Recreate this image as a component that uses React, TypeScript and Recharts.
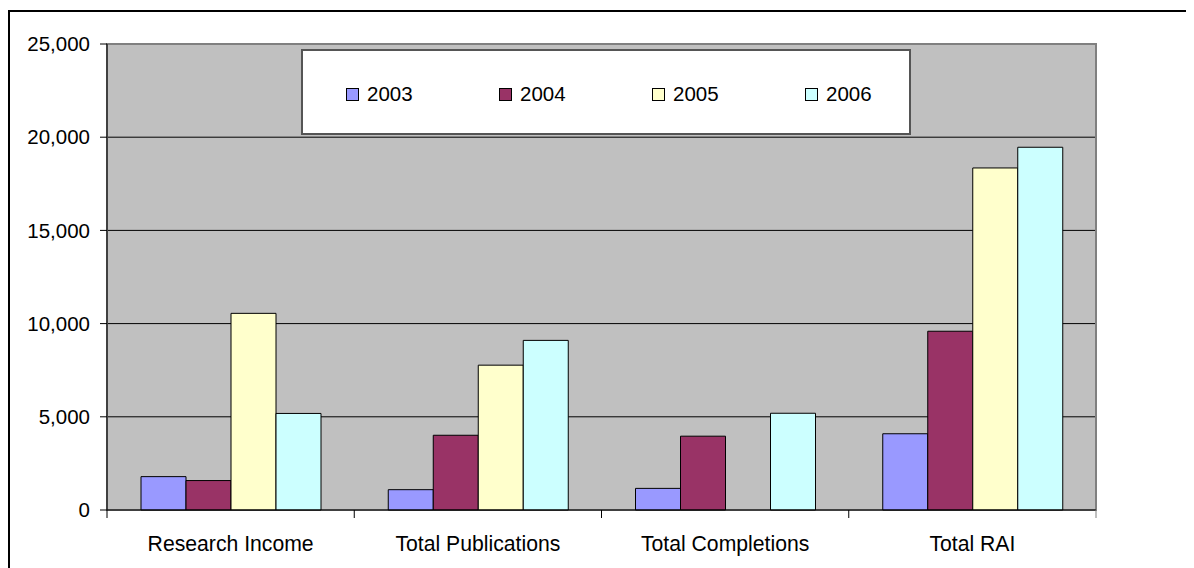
import React from 'react';
import { BarChart, Bar, XAxis, YAxis, CartesianGrid, Legend, ReferenceArea } from 'recharts';

const categories = ['Research Income', 'Total Publications', 'Total Completions', 'Total RAI'];
const years = ['2003', '2004', '2005', '2006'];
const values2003 = [1790, 1090, 1160, 4090];
const values2004 = [1580, 4010, 3960, 9590];
const values2005 = [10550, 7770, 0, 18350];
const values2006 = [5180, 9100, 5190, 19460];
const yTicks = [0, 5000, 10000, 15000, 20000, 25000];

const colors = ['#9999FF', '#993366', '#FFFFCC', '#CCFFFF'];
const seriesValues = [values2003, values2004, values2005, values2006];

const data = categories.map((name, i) => {
  const row: Record<string, string | number> = { name };
  years.forEach((y, s) => {
    row[y] = seriesValues[s][i];
  });
  return row;
});

const FONT = '"Liberation Sans", Arial, sans-serif';

// chart geometry
const CHART_W = 1180;
const CHART_H = 556;
const MARGIN = { top: 32, right: 94, bottom: 18, left: 0 };
const Y_W = 97;
const PLOT_W = CHART_W - MARGIN.left - MARGIN.right - Y_W;
const HALF_BAND = PLOT_W / categories.length / 2;

const CategoryTick = (props: any) => {
  const { x, y, payload, index } = props;
  const last = index === categories.length - 1;
  return (
    <g>
      <line x1={x - HALF_BAND} y1={y - 8} x2={x - HALF_BAND} y2={y} stroke="#000" />
      {last && <line x1={x + HALF_BAND} y1={y - 8} x2={x + HALF_BAND} y2={y} stroke="#808080" />}
      <text x={x} y={y + 33} textAnchor="middle" fontFamily={FONT} fontSize={21.2} fill="#000">
        {payload.value}
      </text>
    </g>
  );
};

const LegendBox = () => (
  <div
    style={{
      width: 606,
      height: 82,
      background: '#fff',
      border: '2px solid #555',
      position: 'relative',
      fontFamily: FONT,
      fontSize: 20.5,
    }}
  >
    {years.map((y, i) => (
      <div
        key={y}
        style={{
          position: 'absolute',
          left: 43 + i * 153,
          top: 31,
          display: 'flex',
          alignItems: 'center',
        }}
      >
        <div style={{ width: 11, height: 11, background: colors[i], border: '1px solid #000', marginRight: 8 }} />
        <span>{y}</span>
      </div>
    ))}
  </div>
);

export default function App() {
  return (
    <div
      style={{
        marginTop: 2,
        width: 1200,
        height: 570,
        borderTop: '2px solid #000',
        borderLeft: '2px solid #000',
        background: '#fff',
      }}
    >
      <BarChart
        width={CHART_W}
        height={CHART_H}
        data={data}
        margin={MARGIN}
        barCategoryGap={34}
        barGap={0}
      >
        <CartesianGrid vertical={false} stroke="#000" fill="#C0C0C0" fillOpacity={1} />
        <ReferenceArea y1={0} y2={25000} fill="none" stroke="#808080" strokeWidth={2} ifOverflow="visible" />
        <YAxis
          width={Y_W}
          domain={[0, 25000]}
          ticks={yTicks}
          interval={0}
          tickFormatter={(v: number) => v.toLocaleString('en-US')}
          tick={{ fill: '#000', fontSize: 20.5, fontFamily: FONT }}
          tickSize={7}
          tickMargin={10}
          stroke="#000"
          axisLine={{ stroke: '#000' }}
          tickLine={{ stroke: '#000' }}
        />
        <XAxis
          dataKey="name"
          height={40}
          interval={0}
          tick={<CategoryTick />}
          tickLine={false}
          axisLine={{ stroke: '#000' }}
        />
        <Legend
          layout="horizontal"
          verticalAlign="middle"
          align="center"
          content={<LegendBox />}
          wrapperStyle={{ left: 291, top: 37, width: 610, height: 86 }}
        />
        {years.map((y, i) => (
          <Bar key={y} dataKey={y} fill={colors[i]} stroke="#000" strokeWidth={1} isAnimationActive={false} />
        ))}
      </BarChart>
    </div>
  );
}
